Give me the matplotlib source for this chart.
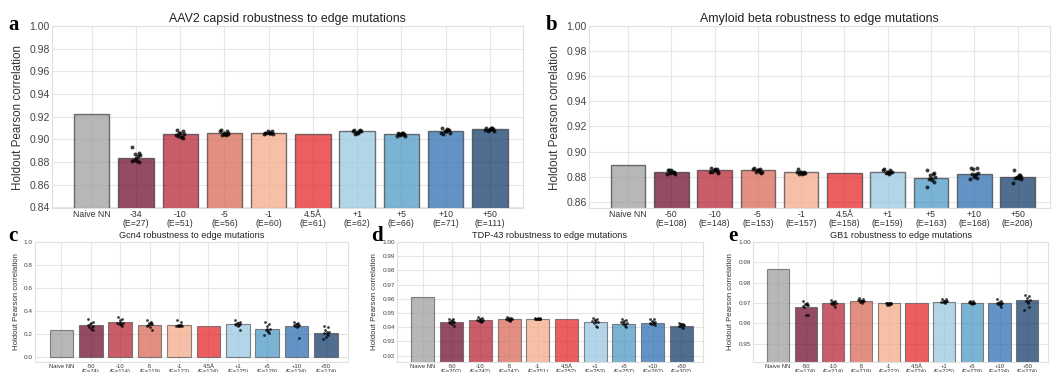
import matplotlib
matplotlib.use("Agg")
import matplotlib.pyplot as plt
import numpy as np

plt.rcParams['font.family'] = ['Liberation Sans', 'DejaVu Sans']

# colours per condition (naive + 9 edge settings)
bar_colors = ['#999999', '#67001f', '#b2182b', '#d6604d', '#f4a582',
              '#e41a1c', '#92c5de', '#4393c3', '#2166ac', '#053061']

# ---- AAV2 ----
aav_labels = ['Naive NN', '-34\n(E=27)', '-10\n(E=51)', '-5\n(E=56)', '-1\n(E=60)',
              '4.5Å\n(E=61)', '+1\n(E=62)', '+5\n(E=66)', '+10\n(E=71)', '+50\n(E=111)']
aav_means = [0.922, 0.884, 0.905, 0.906, 0.906, 0.905, 0.907, 0.905, 0.907, 0.909]
aav_runs = [
    [],
    [0.893, 0.888, 0.887, 0.886, 0.882, 0.881, 0.880, 0.881, 0.884, 0.885],
    [0.908, 0.907, 0.906, 0.905, 0.903, 0.902, 0.901, 0.904, 0.906, 0.902],
    [0.908, 0.907, 0.906, 0.905, 0.904, 0.905, 0.906, 0.907, 0.905, 0.904],
    [0.906, 0.906, 0.907, 0.905, 0.906, 0.906, 0.907, 0.905, 0.906, 0.906],
    [],
    [0.908, 0.907, 0.906, 0.907, 0.905, 0.906, 0.908, 0.907, 0.906, 0.907],
    [0.906, 0.905, 0.904, 0.903, 0.905, 0.906, 0.904, 0.903, 0.905, 0.906],
    [0.910, 0.908, 0.907, 0.906, 0.905, 0.907, 0.908, 0.906, 0.907, 0.909],
    [0.910, 0.909, 0.908, 0.907, 0.907, 0.910, 0.909, 0.908, 0.909, 0.910],
]

# ---- Amyloid beta ----
ab_labels = ['Naive NN', '-50\n(E=108)', '-10\n(E=148)', '-5\n(E=153)', '-1\n(E=157)',
             '4.5Å\n(E=158)', '+1\n(E=159)', '+5\n(E=163)', '+10\n(E=168)', '+50\n(E=208)']
ab_means = [0.889, 0.884, 0.885, 0.885, 0.884, 0.883, 0.884, 0.879, 0.882, 0.880]
ab_runs = [
    [],
    [0.885, 0.884, 0.883, 0.882, 0.885, 0.884, 0.883, 0.882, 0.885, 0.884],
    [0.887, 0.886, 0.885, 0.884, 0.884, 0.885, 0.883, 0.884, 0.886, 0.885],
    [0.887, 0.886, 0.885, 0.884, 0.884, 0.885, 0.883, 0.886, 0.885, 0.884],
    [0.886, 0.884, 0.884, 0.883, 0.882, 0.882, 0.883, 0.884, 0.884, 0.883],
    [],
    [0.886, 0.885, 0.884, 0.884, 0.883, 0.882, 0.884, 0.885, 0.884, 0.883],
    [0.885, 0.883, 0.881, 0.880, 0.878, 0.877, 0.876, 0.872, 0.879, 0.882],
    [0.887, 0.887, 0.886, 0.883, 0.882, 0.881, 0.879, 0.878, 0.880, 0.882],
    [0.885, 0.881, 0.880, 0.880, 0.879, 0.879, 0.878, 0.875, 0.880, 0.881],
]

# ---- Gcn4 ----
gcn_labels = ['Naive NN', '-50\n(E=74)', '-10\n(E=114)', '-5\n(E=119)', '-1\n(E=123)',
              '4.5Å\n(E=124)', '+1\n(E=125)', '+5\n(E=129)', '+10\n(E=134)', '+50\n(E=174)']
gcn_means = [0.24, 0.28, 0.31, 0.285, 0.28, 0.27, 0.29, 0.25, 0.275, 0.215]
gcn_runs = [
    [],
    [0.33, 0.31, 0.29, 0.27, 0.26, 0.25, 0.24, 0.28, 0.30, 0.26],
    [0.35, 0.33, 0.31, 0.30, 0.29, 0.28, 0.27, 0.30, 0.32, 0.29],
    [0.32, 0.31, 0.30, 0.29, 0.28, 0.26, 0.24, 0.27, 0.29, 0.30],
    [0.32, 0.31, 0.28, 0.27, 0.27, 0.27, 0.28, 0.27, 0.27, 0.28],
    [],
    [0.32, 0.31, 0.30, 0.29, 0.28, 0.27, 0.24, 0.29, 0.30, 0.28],
    [0.31, 0.29, 0.27, 0.25, 0.24, 0.23, 0.21, 0.19, 0.25, 0.22],
    [0.31, 0.30, 0.29, 0.28, 0.27, 0.26, 0.17, 0.28, 0.29, 0.27],
    [0.27, 0.26, 0.24, 0.22, 0.21, 0.20, 0.19, 0.16, 0.18, 0.22],
]

# ---- TDP-43 ----
tdp_labels = ['Naive NN', '-50\n(E=202)', '-10\n(E=242)', '-5\n(E=247)', '-1\n(E=251)',
              '4.5Å\n(E=252)', '+1\n(E=253)', '+5\n(E=257)', '+10\n(E=262)', '+50\n(E=302)']
tdp_means = [0.9615, 0.944, 0.945, 0.9455, 0.946, 0.946, 0.944, 0.9425, 0.943, 0.941]
tdp_runs = [
    [],
    [0.9460, 0.9455, 0.9445, 0.9440, 0.9430, 0.9420, 0.9410, 0.9435, 0.9450, 0.9440],
    [0.9470, 0.9465, 0.9455, 0.9450, 0.9445, 0.9440, 0.9445, 0.9450, 0.9455, 0.9445],
    [0.9475, 0.9465, 0.9460, 0.9455, 0.9450, 0.9445, 0.9460, 0.9455, 0.9465, 0.9450],
    [0.9465, 0.9462, 0.9460, 0.9458, 0.9460, 0.9462, 0.9460, 0.9458, 0.9461, 0.9460],
    [],
    [0.9465, 0.9455, 0.9450, 0.9440, 0.9430, 0.9410, 0.9400, 0.9445, 0.9450, 0.9440],
    [0.9455, 0.9450, 0.9440, 0.9430, 0.9420, 0.9410, 0.9400, 0.9435, 0.9445, 0.9425],
    [0.9460, 0.9455, 0.9445, 0.9435, 0.9425, 0.9420, 0.9415, 0.9430, 0.9440, 0.9430],
    [0.9430, 0.9425, 0.9420, 0.9415, 0.9410, 0.9400, 0.9395, 0.9410, 0.9420, 0.9415],
]

# ---- GB1 ----
gb1_labels = ['Naive NN', '-50\n(E=174)', '-10\n(E=214)', '-5\n(E=219)', '-1\n(E=223)',
              '4.5Å\n(E=224)', '+1\n(E=225)', '+5\n(E=229)', '+10\n(E=234)', '+50\n(E=274)']
gb1_means = [0.9865, 0.968, 0.970, 0.971, 0.970, 0.970, 0.9705, 0.970, 0.970, 0.9715]
gb1_runs = [
    [],
    [0.9710, 0.9700, 0.9695, 0.9690, 0.9680, 0.9640, 0.9640, 0.9685, 0.9695, 0.9690],
    [0.9715, 0.9710, 0.9705, 0.9700, 0.9695, 0.9690, 0.9680, 0.9700, 0.9705, 0.9700],
    [0.9725, 0.9720, 0.9715, 0.9710, 0.9705, 0.9700, 0.9710, 0.9715, 0.9708, 0.9712],
    [0.9702, 0.9700, 0.9698, 0.9695, 0.9690, 0.9692, 0.9700, 0.9698, 0.9696, 0.9700],
    [],
    [0.9722, 0.9718, 0.9712, 0.9708, 0.9705, 0.9702, 0.9710, 0.9706, 0.9712, 0.9704],
    [0.9712, 0.9708, 0.9704, 0.9700, 0.9698, 0.9695, 0.9700, 0.9705, 0.9702, 0.9698],
    [0.9720, 0.9712, 0.9705, 0.9700, 0.9695, 0.9690, 0.9680, 0.9698, 0.9702, 0.9695],
    [0.9740, 0.9735, 0.9725, 0.9715, 0.9710, 0.9700, 0.9680, 0.9665, 0.9712, 0.9705],
]

# fixed horizontal spread for the run dots
JITTER = [-0.08, 0.06, -0.02, 0.09, -0.05, 0.02, 0.07, -0.10, 0.00, 0.04]


def draw_panel(ax, labels, means, runs, title, ylim, yticks, fmt, letter, small=False):
    x = np.arange(len(labels))
    ax.set_axisbelow(True)
    ax.grid(True, color='#e6e6e6', linewidth=0.8)
    ax.bar(x, means, width=0.8, color=bar_colors, alpha=0.7,
           edgecolor='#3a3a3a' if not small else '#555555',
           linewidth=1.0 if not small else 0.8, zorder=2)
    for i, vals in enumerate(runs):
        if not vals:
            continue
        xs = i + np.array(JITTER[:len(vals)])
        ax.scatter(xs, vals, s=8 if not small else 4, color='black', alpha=0.75,
                   linewidths=0, zorder=3)
    ax.set_xlim(-0.9, len(labels) - 0.25)
    ax.set_ylim(*ylim)
    ax.set_yticks(yticks)
    fs_tick = 7.5 if not small else 4.6
    fs_x = 6.3 if not small else 4.2
    ax.set_yticklabels([fmt.format(t) for t in yticks], fontsize=fs_tick, color='#444444')
    ax.set_xticks(x)
    ax.set_xticklabels(labels, fontsize=fs_x, color='#333333', linespacing=1.0)
    ax.tick_params(axis='both', length=0, pad=1.5)
    ax.set_title(title, fontsize=8.9 if not small else 6.6, color='#222222', pad=3)
    ax.set_ylabel('Holdout Pearson correlation', fontsize=8.4 if not small else 5.6,
                  color='#333333', labelpad=4 if not small else 3)
    for sp in ax.spines.values():
        sp.set_color('#e0e0e0')
        sp.set_linewidth(0.8)
    if small:
        ax.text(-0.085, 1.13, letter, transform=ax.transAxes, fontsize=15,
                fontweight='bold', family='Liberation Serif', va='top', ha='left')
    else:
        ax.text(-0.093, 1.06, letter, transform=ax.transAxes, fontsize=15,
                fontweight='bold', family='Liberation Serif', va='top', ha='left')


fig = plt.figure(figsize=(10.55, 3.72), dpi=100)

W, H = 1055.0, 372.0


def box(l, t, r, b):
    return [l / W, 1 - b / H, (r - l) / W, (b - t) / H]


ax_a = fig.add_axes(box(52, 26, 523, 208))
ax_b = fig.add_axes(box(589, 26, 1050, 208))
ax_c = fig.add_axes(box(35, 242, 348, 362))
ax_d = fig.add_axes(box(397, 242, 703, 362))
ax_e = fig.add_axes(box(753, 242, 1048, 362))

draw_panel(ax_a, aav_labels, aav_means, aav_runs, 'AAV2 capsid robustness to edge mutations',
           (0.8395, 1.0), np.arange(0.84, 1.001, 0.02), '{:.2f}', 'a')
draw_panel(ax_b, ab_labels, ab_means, ab_runs, 'Amyloid beta robustness to edge mutations',
           (0.855, 1.0), np.arange(0.86, 1.001, 0.02), '{:.2f}', 'b')
draw_panel(ax_c, gcn_labels, gcn_means, gcn_runs, 'Gcn4 robustness to edge mutations',
           (-0.04, 1.0), np.arange(0.0, 1.01, 0.2), '{:.1f}', 'c', small=True)
draw_panel(ax_d, tdp_labels, tdp_means, tdp_runs, 'TDP-43 robustness to edge mutations',
           (0.9155, 1.0), np.arange(0.92, 1.001, 0.01), '{:.2f}', 'd', small=True)
draw_panel(ax_e, gb1_labels, gb1_means, gb1_runs, 'GB1 robustness to edge mutations',
           (0.941, 1.0), np.arange(0.95, 1.001, 0.01), '{:.2f}', 'e', small=True)

fig.savefig('out.png', dpi=100)
